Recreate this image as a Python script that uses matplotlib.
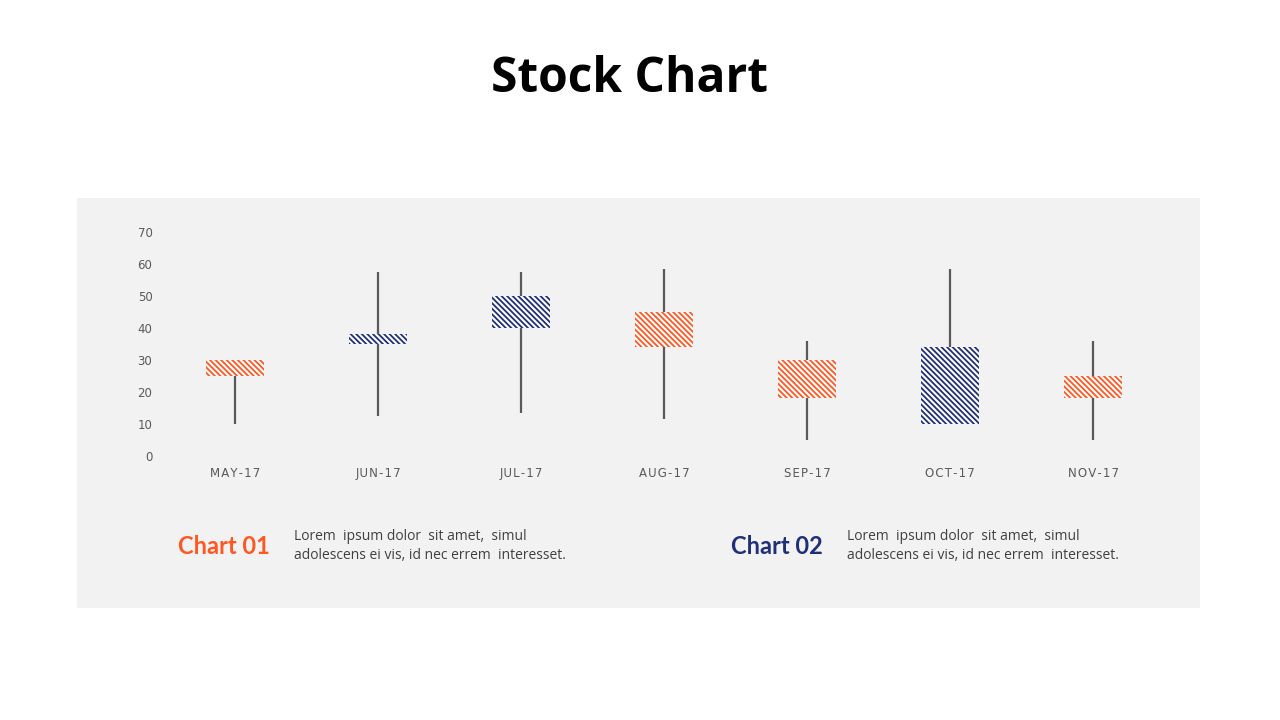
import matplotlib
matplotlib.use("Agg")
import matplotlib.pyplot as plt
from matplotlib.patches import Rectangle

# ---- Data ----
months = ["MAY-17", "JUN-17", "JUL-17", "AUG-17", "SEP-17", "OCT-17", "NOV-17"]
opens = [30, 35, 40, 45, 30, 10, 25]
highs = [30, 57.5, 57.5, 58.5, 36, 58.5, 36]
lows = [10, 12.5, 13.5, 11.5, 5, 10, 5]
closes = [25, 38, 50, 34, 18, 34, 18]

UP_COLOR = "#1F2F7A"
DOWN_COLOR = "#FF5722"
WICK_COLOR = "#595959"
PANEL_COLOR = "#F2F2F2"

plt.rcParams["hatch.linewidth"] = 1.3

fig = plt.figure(figsize=(12.8, 7.2), dpi=100)
fig.patch.set_facecolor("white")

# grey panel behind the chart
fig.patches.append(Rectangle((77 / 1280, 1 - 608 / 720), 1123 / 1280, 410 / 720,
                             transform=fig.transFigure, facecolor=PANEL_COLOR,
                             edgecolor="none", zorder=-1))

fig.text(0.492, 1 - 79 / 720, "Stock Chart", ha="center", va="center",
         fontsize=34.5, fontweight="bold", family=["Open Sans", "DejaVu Sans"])

ax = fig.add_axes([163.5 / 1280, 1 - 456 / 720, 1001 / 1280, 224 / 720])
ax.set_facecolor("none")
ax.set_zorder(2)

x = range(len(months))
ax.vlines(x, lows, highs, color=WICK_COLOR, linewidth=1.6, zorder=1)
for i in x:
    up = closes[i] >= opens[i]
    col = UP_COLOR if up else DOWN_COLOR
    bottom = min(opens[i], closes[i])
    height = abs(closes[i] - opens[i])
    ax.bar(i, height, bottom=bottom, width=0.4, facecolor="white",
           edgecolor=col, hatch="\\" * 6, linewidth=0, zorder=2)

ax.set_xlim(-0.5, len(months) - 0.5)
ax.set_ylim(0, 70)
ax.set_yticks(range(0, 71, 10))
ax.set_xticks(list(x))
ax.set_xticklabels(["\u200a".join(m) for m in months])
for s in ax.spines.values():
    s.set_visible(False)
ax.tick_params(axis="both", length=0, colors="#595959", labelsize=8.5)
ax.tick_params(axis="y", pad=8)
ax.tick_params(axis="x", pad=8)

# captions
fig.text(224 / 1280, 1 - 546 / 720, "Chart 01", ha="center", va="center",
         fontsize=17, fontweight="bold", color=DOWN_COLOR, family=["Lato", "DejaVu Sans"])
fig.text(294 / 1280, 1 - 546 / 720,
         "Lorem  ipsum dolor  sit amet,  simul\nadolescens ei vis, id nec errem  interesset.",
         ha="left", va="center", fontsize=10, color="#404040", linespacing=1.35,
         family=["Open Sans", "DejaVu Sans"])
fig.text(777 / 1280, 1 - 546 / 720, "Chart 02", ha="center", va="center",
         fontsize=17, fontweight="bold", color=UP_COLOR, family=["Lato", "DejaVu Sans"])
fig.text(847 / 1280, 1 - 546 / 720,
         "Lorem  ipsum dolor  sit amet,  simul\nadolescens ei vis, id nec errem  interesset.",
         ha="left", va="center", fontsize=10, color="#404040", linespacing=1.35,
         family=["Open Sans", "DejaVu Sans"])

fig.savefig("out.png", dpi=100)
